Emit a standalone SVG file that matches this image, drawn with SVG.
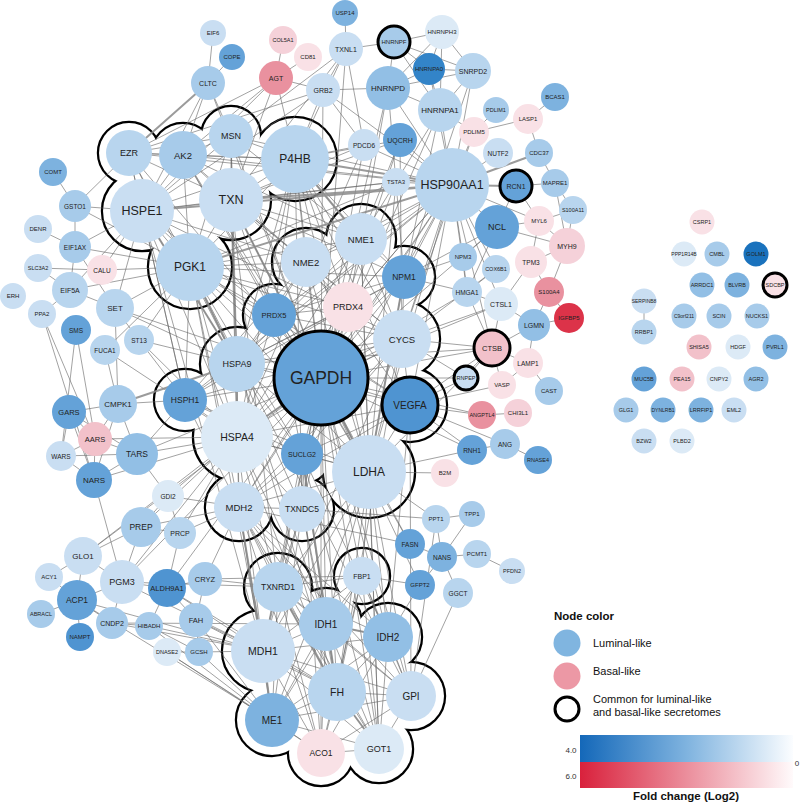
<svg xmlns="http://www.w3.org/2000/svg" xmlns:xlink="http://www.w3.org/1999/xlink" width="800" height="804" viewBox="0 0 800 804">
<style>
.e{stroke:#666;stroke-width:.85;fill:none;stroke-opacity:.72}
.e2{stroke:#8a8a8a;stroke-width:2;fill:none;stroke-opacity:.85}
.c1{fill:#dceaf6}.c2{fill:#c9def2}.c3{fill:#b8d5ee}.c4{fill:#a7cbea}.c5{fill:#92bfe5}.c6{fill:#7db2df}.c7{fill:#64a2d8}.c8{fill:#4f94d1}.c9{fill:#3384c8}.c10{fill:#1a72bd}
.p1{fill:#f9e1e6}.p2{fill:#f5d1d9}.p3{fill:#f2c1ca}.p4{fill:#e9919f}.p5{fill:#dc3349}
.bd{stroke:#000;stroke-width:3}
text{font-family:"Liberation Sans",Arial,Helvetica,sans-serif;fill:#222;text-anchor:middle;dominant-baseline:central}
.s5{font-size:5px}.s55{font-size:5.5px}.s6{font-size:6px}.s65{font-size:6.5px}.s7{font-size:7px}.s75{font-size:7.5px}.s8{font-size:8px}.s85{font-size:8.5px}.s9{font-size:9px}.s95{font-size:9.5px}.s10{font-size:10px}.s105{font-size:10.5px}.s12{font-size:12px}.s125{font-size:12.5px}.s17{font-size:17.5px}
.lg{font-size:11px;text-anchor:start;dominant-baseline:auto;fill:#111}
.lb{font-size:11.5px;font-weight:bold;dominant-baseline:auto;fill:#111}
.tk{font-size:8px;dominant-baseline:auto;fill:#333}
</style>
<defs>
<g id="k1"><circle cx="129" cy="153" r="30"/><circle cx="183" cy="155" r="31"/><circle cx="231" cy="136" r="29"/><circle cx="295" cy="159" r="41"/><circle cx="142" cy="211" r="39"/><circle cx="231" cy="200" r="39"/><circle cx="190" cy="267" r="41"/></g>
<g id="k2"><circle cx="361" cy="239" r="34"/><circle cx="306" cy="262" r="33"/><circle cx="404" cy="277" r="30"/><circle cx="348" cy="307" r="33"/><circle cx="274" cy="315" r="30"/><circle cx="402" cy="339" r="37"/><circle cx="321" cy="378" r="55"/><circle cx="237" cy="364" r="36"/><circle cx="410" cy="405" r="36"/><circle cx="237" cy="437" r="43"/><circle cx="185" cy="400" r="30"/><circle cx="302" cy="454" r="29"/><circle cx="369" cy="472" r="45"/><circle cx="239" cy="507" r="33"/><circle cx="302" cy="509" r="31"/></g>
<g id="k3"><circle cx="278" cy="587" r="33"/><circle cx="362" cy="576" r="27"/><circle cx="326" cy="624" r="35"/><circle cx="388" cy="637" r="33"/><circle cx="263" cy="651" r="40"/><circle cx="337" cy="692" r="37"/><circle cx="411" cy="696" r="33"/><circle cx="272" cy="720" r="35"/><circle cx="321" cy="753" r="32"/><circle cx="379" cy="749" r="33"/></g>
<mask id="m1" maskUnits="userSpaceOnUse" x="0" y="0" width="800" height="804"><rect width="800" height="804" fill="#fff"/><use href="#k1" fill="#000"/><polygon points="129,153 183,155 231,136 295,159 231,200 190,267 142,211" fill="#000"/></mask>
<mask id="m2" maskUnits="userSpaceOnUse" x="0" y="0" width="800" height="804"><rect width="800" height="804" fill="#fff"/><use href="#k2" fill="#000"/><polygon points="361,239 404,277 402,339 410,405 369,472 302,454 302,509 239,507 237,437 185,400 237,364 274,315 306,262" fill="#000"/></mask>
<mask id="m3" maskUnits="userSpaceOnUse" x="0" y="0" width="800" height="804"><rect width="800" height="804" fill="#fff"/><use href="#k3" fill="#000"/><polygon points="278,587 326,624 362,576 326,624 388,637 411,696 379,749 321,753 272,720 263,651" fill="#000"/></mask>
<linearGradient id="gb" x1="0" x2="1" y1="0" y2="0"><stop offset="0" stop-color="#1468b9"/><stop offset="0.5" stop-color="#7fb3df"/><stop offset="1" stop-color="#fbfdff"/></linearGradient>
<linearGradient id="gr" x1="0" x2="1" y1="0" y2="0"><stop offset="0" stop-color="#d9213c"/><stop offset="0.5" stop-color="#eb8e9c"/><stop offset="1" stop-color="#fffafb"/></linearGradient>
</defs>
<rect width="800" height="804" fill="#fff"/>
<g id="outlines">
<g mask="url(#m1)"><use href="#k1" fill="none" stroke="#000" stroke-width="4.4"/></g>
<g mask="url(#m2)"><use href="#k2" fill="none" stroke="#000" stroke-width="4.4"/></g>
<g mask="url(#m3)"><use href="#k3" fill="none" stroke="#000" stroke-width="4.4"/></g>
</g>
<g id="connectors">
<path class="e" d="M129 153L183 155M129 153L231 136M129 153L295 159M129 153L142 211M129 153L231 200M129 153L190 267M183 155L231 136M183 155L295 159M183 155L142 211M183 155L231 200M183 155L190 267M231 136L295 159M231 136L142 211M231 136L231 200M231 136L190 267M295 159L142 211M295 159L231 200M295 159L190 267M142 211L231 200M142 211L190 267M231 200L190 267"/>
<path class="e" d="M321 378L361 239M321 378L306 262M321 378L404 277M321 378L348 307M321 378L274 315M321 378L402 339M321 378L237 364M321 378L410 405M321 378L237 437M321 378L185 400M321 378L302 454M321 378L369 472M321 378L239 507M321 378L302 509M361 239L306 262M361 239L404 277M361 239L348 307M361 239L402 339M361 239L237 364M361 239L369 472M361 239L237 437M306 262L274 315M306 262L237 364M306 262L348 307M306 262L402 339M306 262L369 472M306 262L185 400M306 262L410 405M404 277L402 339M404 277L237 364M404 277L237 437M404 277L369 472M404 277L348 307M404 277L274 315M348 307L274 315M348 307L237 364M348 307L302 509M348 307L369 472M348 307L185 400M274 315L237 364M274 315L237 437M274 315L402 339M274 315L302 454M274 315L410 405M274 315L369 472M402 339L410 405M402 339L369 472M402 339L237 364M402 339L237 437M402 339L302 454M402 339L185 400M402 339L239 507M237 364L237 437M237 364L185 400M237 364L369 472M237 364L302 454M237 364L239 507M237 364L410 405M237 364L302 509M410 405L369 472M410 405L237 437M410 405L302 454M410 405L239 507M237 437L185 400M237 437L369 472M237 437L239 507M237 437L302 509M237 437L302 454M185 400L369 472M185 400L302 454M185 400L239 507M302 454L369 472M302 454L239 507M302 454L302 509M369 472L239 507M369 472L302 509M239 507L302 509"/>
<path class="e" d="M278 587L362 576M278 587L326 624M278 587L388 637M278 587L263 651M278 587L337 692M278 587L411 696M278 587L272 720M278 587L321 753M278 587L379 749M362 576L326 624M362 576L388 637M362 576L263 651M362 576L337 692M362 576L411 696M362 576L272 720M362 576L321 753M362 576L379 749M326 624L388 637M326 624L263 651M326 624L337 692M326 624L411 696M326 624L272 720M326 624L321 753M326 624L379 749M388 637L263 651M388 637L337 692M388 637L411 696M388 637L272 720M388 637L321 753M388 637L379 749M263 651L337 692M263 651L411 696M263 651L272 720M263 651L321 753M263 651L379 749M337 692L411 696M337 692L272 720M337 692L321 753M337 692L379 749M411 696L272 720M411 696L321 753M411 696L379 749M272 720L321 753M272 720L379 749M321 753L379 749"/>
<path class="e" d="M142 211L321 378M142 211L237 364M142 211L237 437M142 211L306 262M142 211L185 400M142 211L402 339M142 211L274 315M231 200L321 378M231 200L274 315M231 200L348 307M231 200L361 239M231 200L306 262M231 200L237 364M231 200L369 472M231 200L404 277M231 200L402 339M231 200L237 437M190 267L321 378M190 267L369 472M190 267L237 364M190 267L237 437M190 267L306 262M190 267L274 315M190 267L361 239M190 267L402 339M190 267L410 405M190 267L185 400M190 267L404 277M190 267L348 307M190 267L302 454M190 267L239 507M295 159L321 378M295 159L237 364M295 159L361 239M295 159L348 307M295 159L237 437M295 159L402 339M295 159L404 277M295 159L302 509M295 159L410 405M295 159L306 262M295 159L274 315M295 159L369 472M231 136L321 378M231 136L237 437M231 136L361 239M231 136L237 364M129 153L321 378M129 153L237 364M129 153L185 400M183 155L321 378M183 155L306 262M183 155L274 315M183 155L369 472M183 155L361 239"/>
<path class="e" d="M452 185L321 378M452 185L237 364M452 185L237 437M452 185L185 400M452 185L404 277M452 185L361 239M452 185L306 262M452 185L402 339M452 185L369 472M452 185L410 405M452 185L348 307M452 185L183 155M452 185L231 136M452 185L129 153M452 185L364 145M452 185L400 140M452 185L396 182M452 185L388 88M452 185L440 110M452 185L497 227M452 185L498 153M452 185L474 132M452 185L539 221M452 185L492 348M452 185L467 292M452 185L463 257M452 185L496 269M452 185L501 304M452 185L239 507M452 185L302 454M452 185L274 315M452 185L429 69M452 185L473 71M452 185L323 90"/>
<path class="e" d="M400 140L321 378M400 140L402 339M400 140L231 200M400 140L361 239M400 140L295 159M364 145L237 437M364 145L321 378M364 145L295 159M364 145L231 200M364 145L323 90M364 145L346 49M396 182L321 378M396 182L231 200M396 182L190 267M396 182L142 211M396 182L369 472M323 90L295 159M323 90L142 211M323 90L321 378M323 90L276 78M323 90L346 49M323 90L388 88M323 90L129 153M276 78L129 153M276 78L183 155M276 78L142 211M276 78L295 159M276 78L283 40M276 78L308 57M276 78L231 200M208 83L213 33M208 83L232 57M208 83L183 155M208 83L231 136M208 83L321 378M208 83L142 211M346 49L345 13M346 49L394 42M346 49L295 159M346 49L231 200M346 49L321 378M346 49L231 136"/>
<path class="e" d="M394 42L429 69M394 42L388 88M394 42L440 110M394 42L442 32M394 42L473 71M429 69L442 32M429 69L473 71M429 69L440 110M429 69L388 88M388 88L440 110M388 88L361 239M388 88L321 378M388 88L404 277M388 88L442 32M388 88L473 71M442 32L473 71M442 32L440 110M473 71L440 110M473 71L404 277M440 110L321 378M440 110L361 239M440 110L404 277M440 110L474 132"/>
<path class="e" d="M496 110L474 132M528 119L474 132M528 119L555 97M528 119L539 153M474 132L402 339M539 153L555 183M516 186L555 183M516 186L497 227M516 186L539 221M555 183L573 210M555 183L567 246M573 210L539 221M573 210L567 246M539 221L497 227M539 221L567 246M539 221L531 262M567 246L531 262M567 246L549 292M567 246L497 227M531 262L549 292M531 262L501 304M497 227L404 277M497 227L463 257M497 227L321 378M497 227L467 292M463 257L404 277M463 257L467 292M496 269L402 339M496 269L467 292M467 292L321 378M467 292L404 277M467 292L492 348M549 292L569 318M549 292L534 325M569 318L534 325M534 325L492 348M534 325L501 304M534 325L528 363M492 348L501 304M492 348L528 363M492 348L321 378M492 348L466 378M492 348L410 405M492 348L402 339M492 348L369 472M492 348L237 364M492 348L502 385M501 304L321 378M501 304L402 339M501 304L467 292M528 363L549 391M528 363L502 385M466 378L321 378M466 378L410 405M466 378L402 339M518 413L482 415M482 415L410 405M482 415L321 378M505 444L472 450M505 444L538 460M505 444L410 405M472 450L410 405M472 450L369 472M472 450L321 378M445 473L369 472M502 385L410 405"/>
<path class="e" d="M436 519L472 514M436 519L442 557M436 519L369 472M436 519L302 509M436 519L411 696M410 544L442 557M410 544L369 472M410 544L321 378M410 544L239 507M442 557L477 554M442 557L472 514M442 557L458 593M442 557L420 585M477 554L512 571M420 585L362 576M420 585L321 378M420 585L388 637M458 593L411 696M205 579L362 576M644 301L644 332"/>
<path class="e" d="M53 172L75 206M75 206L142 211M75 206L129 153M75 206L190 267M75 206L75 247M38 229L75 247M75 247L142 211M75 247L190 267M75 247L70 290M75 247L115 308M38 268L70 290M38 268L102 270M102 270L190 267M102 270L142 211M70 290L115 308M70 290L142 211M70 290L190 267M70 290L42 314M42 314L94 480M42 314L95 439M115 308L190 267M115 308L142 211M115 308L237 364M115 308L321 378M115 308L139 340M115 308L118 404M76 330L95 439M76 330L61 456M139 340L237 364M139 340L185 400M139 340L190 267M139 340L237 437M105 350L118 404M105 350L237 437M105 350L190 267M118 404L69 412M118 404L95 439M118 404L137 454M118 404L94 480M118 404L185 400M69 412L95 439M69 412L61 456M69 412L94 480M69 412L137 454M95 439L137 454M95 439L61 456M95 439L94 480M95 439L237 437M61 456L94 480M61 456L137 454M137 454L94 480M137 454L237 437M137 454L321 378M137 454L185 400M137 454L168 496M94 480L237 437M94 480L122 582"/>
<path class="e" d="M168 496L237 437M168 496L141 527M168 496L180 533M168 496L239 507M141 527L180 533M141 527L122 582M141 527L83 556M141 527L237 437M141 527L239 507M180 533L167 588M180 533L239 507M180 533L237 437M83 556L49 577M83 556L77 600M83 556L122 582M83 556L237 437M83 556L321 378M49 577L77 600M77 600L41 614M77 600L80 637M77 600L112 623M77 600L122 582M77 600L263 651M77 600L272 720M122 582L167 588M122 582L112 623M122 582L278 587M122 582L263 651M122 582L321 378M122 582L237 437M167 588L205 579M167 588L149 626M167 588L196 620M167 588L263 651M167 588L321 378M167 588L337 692M205 579L196 620M205 579L278 587M205 579L239 507M196 620L199 652M196 620L263 651M196 620L337 692M196 620L272 720M149 626L199 652M149 626L263 651M149 626L272 720M149 626L112 623M167 652L199 652M167 652L272 720M167 652L321 753M112 623L326 624M112 623L263 651M199 652L272 720M199 652L263 651"/>
<path class="e" d="M321 378L263 651M321 378L326 624M321 378L337 692M321 378L411 696M321 378L272 720M321 378L278 587M321 378L379 749M321 378L321 753M321 378L388 637M321 378L362 576M369 472L263 651M369 472L326 624M369 472L411 696M369 472L337 692M369 472L379 749M369 472L388 637M369 472L278 587M369 472L272 720M369 472L362 576M239 507L263 651M239 507L326 624M239 507L337 692M239 507L272 720M239 507L379 749M239 507L278 587M239 507L388 637M239 507L321 753M239 507L411 696M302 509L278 587M302 509L326 624M302 509L337 692M302 509L263 651M302 454L337 692M302 454L388 637M302 454L263 651M302 454L321 753M302 454L326 624M302 454L379 749M237 437L263 651M237 437L278 587M237 437L337 692M237 437L326 624M231 200L278 587M190 267L411 696M190 267L263 651M142 211L263 651M402 339L337 692M402 339L263 651M410 405L388 637M410 405L411 696M361 239L379 749M237 364L326 624M237 364L337 692"/>
<path class="e2" d="M118 404L237 364M452 185L516 186M452 185L539 153M129 153L208 83M452 185L142 211M452 185L231 200M452 185L295 159M452 185L190 267M321 378L237 437M321 378L369 472M142 211L237 364M231 200L321 378M326 624L388 637M263 651L272 720M337 692L379 749M239 507L263 651M302 454L337 692M190 267L237 364M295 159L361 239M404 277L369 472M278 587L337 692"/>
</g>
<g id="nodes">
<g id="n-EIF6"><circle class="c2" cx="213" cy="33" r="13"/><text class="s6" x="213" y="33">EIF6</text></g>
<g id="n-COPE"><circle class="c7" cx="232" cy="57" r="13"/><text class="s6" x="232" y="57">COPE</text></g>
<g id="n-CLTC"><circle class="c4" cx="208" cy="83" r="17"/><text class="s7" x="208" y="83">CLTC</text></g>
<g id="n-USP14"><circle class="c6" cx="345" cy="13" r="13"/><text class="s6" x="345" y="13">USP14</text></g>
<g id="n-TXNL1"><circle class="c2" cx="346" cy="49" r="17"/><text class="s7" x="346" y="49">TXNL1</text></g>
<g id="n-COL5A1"><circle class="p2" cx="283" cy="40" r="14"/><text class="s55" x="283" y="40">COL5A1</text></g>
<g id="n-CD81"><circle class="p1" cx="308" cy="57" r="14"/><text class="s6" x="308" y="57">CD81</text></g>
<g id="n-AGT"><circle class="p4" cx="276" cy="78" r="17"/><text class="s7" x="276" y="78">AGT</text></g>
<g id="n-GRB2"><circle class="c2" cx="323" cy="90" r="17"/><text class="s7" x="323" y="90">GRB2</text></g>
<g id="n-HNRNPF"><circle class="c4 bd" cx="394" cy="42" r="16"/><text class="s6" x="394" y="42">HNRNPF</text></g>
<g id="n-HNRNPH3"><circle class="c1" cx="442" cy="32" r="17"/><text class="s6" x="442" y="32">HNRNPH3</text></g>
<g id="n-HNRNPA0"><circle class="c9" cx="429" cy="69" r="16"/><text class="s6" x="429" y="69">HNRNPA0</text></g>
<g id="n-HNRNPD"><circle class="c5" cx="388" cy="88" r="22"/><text class="s8" x="388" y="88">HNRNPD</text></g>
<g id="n-HNRNPA1"><circle class="c3" cx="440" cy="110" r="22"/><text class="s8" x="440" y="110">HNRNPA1</text></g>
<g id="n-SNRPD2"><circle class="c3" cx="473" cy="71" r="18"/><text class="s7" x="473" y="71">SNRPD2</text></g>
<g id="n-PDCD6"><circle class="c2" cx="364" cy="145" r="16"/><text class="s65" x="364" y="145">PDCD6</text></g>
<g id="n-UQCRH"><circle class="c7" cx="400" cy="140" r="17"/><text class="s7" x="400" y="140">UQCRH</text></g>
<g id="n-TSTA3"><circle class="c2" cx="396" cy="182" r="14"/><text class="s6" x="396" y="182">TSTA3</text></g>
<g id="n-HSP90AA1"><circle class="c3" cx="452" cy="185" r="37"/><text class="s125" x="452" y="185">HSP90AA1</text></g>
<g id="n-EZR"><circle class="c3" cx="129" cy="153" r="23"/><text class="s9" x="129" y="153">EZR</text></g>
<g id="n-AK2"><circle class="c4" cx="183" cy="155" r="24"/><text class="s95" x="183" y="155">AK2</text></g>
<g id="n-MSN"><circle class="c3" cx="231" cy="136" r="22"/><text class="s9" x="231" y="136">MSN</text></g>
<g id="n-P4HB"><circle class="c3" cx="295" cy="159" r="34"/><text class="s12" x="295" y="159">P4HB</text></g>
<g id="n-HSPE1"><circle class="c2" cx="142" cy="211" r="32"/><text class="s125" x="142" y="211">HSPE1</text></g>
<g id="n-TXN"><circle class="c2" cx="231" cy="200" r="32"/><text class="s125" x="231" y="200">TXN</text></g>
<g id="n-PGK1"><circle class="c3" cx="190" cy="267" r="34"/><text class="s12" x="190" y="267">PGK1</text></g>
<g id="n-PDLIM1"><circle class="c4" cx="496" cy="110" r="13"/><text class="s55" x="496" y="110">PDLIM1</text></g>
<g id="n-LASP1"><circle class="p1" cx="528" cy="119" r="15"/><text class="s6" x="528" y="119">LASP1</text></g>
<g id="n-BCAS1"><circle class="c6" cx="555" cy="97" r="14"/><text class="s6" x="555" y="97">BCAS1</text></g>
<g id="n-PDLIM5"><circle class="p1" cx="474" cy="132" r="15"/><text class="s6" x="474" y="132">PDLIM5</text></g>
<g id="n-NUTF2"><circle class="c2" cx="498" cy="153" r="15"/><text class="s65" x="498" y="153">NUTF2</text></g>
<g id="n-CDC37"><circle class="c4" cx="539" cy="153" r="14"/><text class="s6" x="539" y="153">CDC37</text></g>
<g id="n-RCN1"><circle class="c7 bd" cx="516" cy="186" r="16"/><text class="s7" x="516" y="186">RCN1</text></g>
<g id="n-MAPRE1"><circle class="c4" cx="555" cy="183" r="14"/><text class="s6" x="555" y="183">MAPRE1</text></g>
<g id="n-S100A11"><circle class="c3" cx="573" cy="210" r="14"/><text class="s55" x="573" y="210">S100A11</text></g>
<g id="n-NCL"><circle class="c7" cx="497" cy="227" r="22"/><text class="s9" x="497" y="227">NCL</text></g>
<g id="n-MYL6"><circle class="p1" cx="539" cy="221" r="15"/><text class="s6" x="539" y="221">MYL6</text></g>
<g id="n-MYH9"><circle class="p2" cx="567" cy="246" r="18"/><text class="s7" x="567" y="246">MYH9</text></g>
<g id="n-NPM3"><circle class="c4" cx="463" cy="257" r="14"/><text class="s6" x="463" y="257">NPM3</text></g>
<g id="n-COX6B1"><circle class="c3" cx="496" cy="269" r="14"/><text class="s55" x="496" y="269">COX6B1</text></g>
<g id="n-TPM3"><circle class="p1" cx="531" cy="262" r="16"/><text class="s65" x="531" y="262">TPM3</text></g>
<g id="n-HMGA1"><circle class="c3" cx="467" cy="292" r="15"/><text class="s65" x="467" y="292">HMGA1</text></g>
<g id="n-CTSL1"><circle class="c1" cx="501" cy="304" r="17"/><text class="s7" x="501" y="304">CTSL1</text></g>
<g id="n-S100A4"><circle class="p4" cx="549" cy="292" r="15"/><text class="s6" x="549" y="292">S100A4</text></g>
<g id="n-IGFBP5"><circle class="p5" cx="569" cy="318" r="15"/><text class="s6" x="569" y="318">IGFBP5</text></g>
<g id="n-LGMN"><circle class="c5" cx="534" cy="325" r="16"/><text class="s7" x="534" y="325">LGMN</text></g>
<g id="n-CTSB"><circle class="p3 bd" cx="492" cy="348" r="18"/><text class="s75" x="492" y="348">CTSB</text></g>
<g id="n-LAMP1"><circle class="p1" cx="528" cy="363" r="15"/><text class="s65" x="528" y="363">LAMP1</text></g>
<g id="n-CAST"><circle class="c4" cx="549" cy="391" r="14"/><text class="s6" x="549" y="391">CAST</text></g>
<g id="n-RNPEP"><circle class="c2 bd" cx="466" cy="378" r="12"/><text class="s55" x="466" y="378">RNPEP</text></g>
<g id="n-VASP"><circle class="p1" cx="502" cy="385" r="14"/><text class="s6" x="502" y="385">VASP</text></g>
<g id="n-CHI3L1"><circle class="p2" cx="518" cy="413" r="14"/><text class="s6" x="518" y="413">CHI3L1</text></g>
<g id="n-ANGPTL4"><circle class="p4" cx="482" cy="415" r="14"/><text class="s55" x="482" y="415">ANGPTL4</text></g>
<g id="n-RNH1"><circle class="c7" cx="472" cy="450" r="15"/><text class="s65" x="472" y="450">RNH1</text></g>
<g id="n-ANG"><circle class="c4" cx="505" cy="444" r="15"/><text class="s65" x="505" y="444">ANG</text></g>
<g id="n-RNASE4"><circle class="c7" cx="538" cy="460" r="14"/><text class="s55" x="538" y="460">RNASE4</text></g>
<g id="n-B2M"><circle class="p1" cx="445" cy="473" r="14"/><text class="s6" x="445" y="473">B2M</text></g>
<g id="n-NME1"><circle class="c2" cx="361" cy="239" r="26"/><text class="s95" x="361" y="239">NME1</text></g>
<g id="n-NME2"><circle class="c2" cx="306" cy="262" r="25"/><text class="s95" x="306" y="262">NME2</text></g>
<g id="n-NPM1"><circle class="c7" cx="404" cy="277" r="22"/><text class="s85" x="404" y="277">NPM1</text></g>
<g id="n-PRDX4"><circle class="p1" cx="348" cy="307" r="25"/><text class="s9" x="348" y="307">PRDX4</text></g>
<g id="n-PRDX5"><circle class="c7" cx="274" cy="315" r="22"/><text class="s75" x="274" y="315">PRDX5</text></g>
<g id="n-CYCS"><circle class="c2" cx="402" cy="339" r="29"/><text class="s95" x="402" y="339">CYCS</text></g>
<g id="n-GAPDH"><circle class="c7 bd" cx="321" cy="378" r="47"/><text class="s17" x="321" y="378">GAPDH</text></g>
<g id="n-HSPA9"><circle class="c3" cx="237" cy="364" r="28"/><text class="s9" x="237" y="364">HSPA9</text></g>
<g id="n-VEGFA"><circle class="c8 bd" cx="410" cy="405" r="28"/><text class="s10" x="410" y="405">VEGFA</text></g>
<g id="n-HSPA4"><circle class="c1" cx="237" cy="437" r="36"/><text class="s105" x="237" y="437">HSPA4</text></g>
<g id="n-HSPH1"><circle class="c7" cx="185" cy="400" r="22"/><text class="s85" x="185" y="400">HSPH1</text></g>
<g id="n-SUCLG2"><circle class="c7" cx="302" cy="454" r="21"/><text class="s7" x="302" y="454">SUCLG2</text></g>
<g id="n-LDHA"><circle class="c2" cx="369" cy="472" r="37"/><text class="s12" x="369" y="472">LDHA</text></g>
<g id="n-MDH2"><circle class="c2" cx="239" cy="507" r="25"/><text class="s95" x="239" y="507">MDH2</text></g>
<g id="n-TXNDC5"><circle class="c2" cx="302" cy="509" r="23"/><text class="s85" x="302" y="509">TXNDC5</text></g>
<g id="n-TXNRD1"><circle class="c3" cx="278" cy="587" r="25"/><text class="s85" x="278" y="587">TXNRD1</text></g>
<g id="n-FBP1"><circle class="c2" cx="362" cy="576" r="19"/><text class="s7" x="362" y="576">FBP1</text></g>
<g id="n-IDH1"><circle class="c4" cx="326" cy="624" r="27"/><text class="s10" x="326" y="624">IDH1</text></g>
<g id="n-IDH2"><circle class="c5" cx="388" cy="637" r="25"/><text class="s10" x="388" y="637">IDH2</text></g>
<g id="n-MDH1"><circle class="c2" cx="263" cy="651" r="32"/><text class="s105" x="263" y="651">MDH1</text></g>
<g id="n-FH"><circle class="c3" cx="337" cy="692" r="29"/><text class="s105" x="337" y="692">FH</text></g>
<g id="n-GPI"><circle class="c2" cx="411" cy="696" r="25"/><text class="s10" x="411" y="696">GPI</text></g>
<g id="n-ME1"><circle class="c6" cx="272" cy="720" r="27"/><text class="s10" x="272" y="720">ME1</text></g>
<g id="n-ACO1"><circle class="p1" cx="321" cy="753" r="24"/><text class="s85" x="321" y="753">ACO1</text></g>
<g id="n-GOT1"><circle class="c1" cx="379" cy="749" r="25"/><text class="s9" x="379" y="749">GOT1</text></g>
<g id="n-COMT"><circle class="c6" cx="53" cy="172" r="14"/><text class="s6" x="53" y="172">COMT</text></g>
<g id="n-GSTO1"><circle class="c4" cx="75" cy="206" r="16"/><text class="s65" x="75" y="206">GSTO1</text></g>
<g id="n-DENR"><circle class="c2" cx="38" cy="229" r="14"/><text class="s6" x="38" y="229">DENR</text></g>
<g id="n-EIF1AX"><circle class="c4" cx="75" cy="247" r="16"/><text class="s65" x="75" y="247">EIF1AX</text></g>
<g id="n-SLC3A2"><circle class="c2" cx="38" cy="268" r="14"/><text class="s55" x="38" y="268">SLC3A2</text></g>
<g id="n-CALU"><circle class="p1" cx="102" cy="270" r="15"/><text class="s65" x="102" y="270">CALU</text></g>
<g id="n-EIF5A"><circle class="c3" cx="70" cy="290" r="18"/><text class="s7" x="70" y="290">EIF5A</text></g>
<g id="n-ERH"><circle class="c2" cx="13" cy="296" r="13"/><text class="s6" x="13" y="296">ERH</text></g>
<g id="n-PPA2"><circle class="c2" cx="42" cy="314" r="14"/><text class="s6" x="42" y="314">PPA2</text></g>
<g id="n-SET"><circle class="c3" cx="115" cy="308" r="19"/><text class="s8" x="115" y="308">SET</text></g>
<g id="n-SMS"><circle class="c7" cx="76" cy="330" r="15"/><text class="s65" x="76" y="330">SMS</text></g>
<g id="n-ST13"><circle class="c3" cx="139" cy="340" r="15"/><text class="s65" x="139" y="340">ST13</text></g>
<g id="n-FUCA1"><circle class="c3" cx="105" cy="350" r="15"/><text class="s65" x="105" y="350">FUCA1</text></g>
<g id="n-CMPK1"><circle class="c4" cx="118" cy="404" r="19"/><text class="s8" x="118" y="404">CMPK1</text></g>
<g id="n-GARS"><circle class="c7" cx="69" cy="412" r="17"/><text class="s75" x="69" y="412">GARS</text></g>
<g id="n-AARS"><circle class="p3" cx="95" cy="439" r="17"/><text class="s75" x="95" y="439">AARS</text></g>
<g id="n-WARS"><circle class="c2" cx="61" cy="456" r="15"/><text class="s65" x="61" y="456">WARS</text></g>
<g id="n-TARS"><circle class="c5" cx="137" cy="454" r="21"/><text class="s85" x="137" y="454">TARS</text></g>
<g id="n-NARS"><circle class="c7" cx="94" cy="480" r="18"/><text class="s8" x="94" y="480">NARS</text></g>
<g id="n-GDI2"><circle class="c1" cx="168" cy="496" r="16"/><text class="s65" x="168" y="496">GDI2</text></g>
<g id="n-PREP"><circle class="c4" cx="141" cy="527" r="20"/><text class="s85" x="141" y="527">PREP</text></g>
<g id="n-PRCP"><circle class="c3" cx="180" cy="533" r="16"/><text class="s7" x="180" y="533">PRCP</text></g>
<g id="n-GLO1"><circle class="c2" cx="83" cy="556" r="19"/><text class="s8" x="83" y="556">GLO1</text></g>
<g id="n-ACY1"><circle class="c2" cx="49" cy="577" r="14"/><text class="s6" x="49" y="577">ACY1</text></g>
<g id="n-PGM3"><circle class="c2" cx="122" cy="582" r="22"/><text class="s9" x="122" y="582">PGM3</text></g>
<g id="n-ALDH9A1"><circle class="c8" cx="167" cy="588" r="19"/><text class="s75" x="167" y="588">ALDH9A1</text></g>
<g id="n-CRYZ"><circle class="c4" cx="205" cy="579" r="17"/><text class="s75" x="205" y="579">CRYZ</text></g>
<g id="n-ACP1"><circle class="c7" cx="77" cy="600" r="20"/><text class="s85" x="77" y="600">ACP1</text></g>
<g id="n-ABRACL"><circle class="c4" cx="41" cy="614" r="14"/><text class="s55" x="41" y="614">ABRACL</text></g>
<g id="n-CNDP2"><circle class="c4" cx="112" cy="623" r="16"/><text class="s7" x="112" y="623">CNDP2</text></g>
<g id="n-HIBADH"><circle class="c4" cx="149" cy="626" r="14"/><text class="s6" x="149" y="626">HIBADH</text></g>
<g id="n-FAH"><circle class="c4" cx="196" cy="620" r="17"/><text class="s75" x="196" y="620">FAH</text></g>
<g id="n-NAMPT"><circle class="c8" cx="80" cy="637" r="14"/><text class="s6" x="80" y="637">NAMPT</text></g>
<g id="n-DNASE2"><circle class="c1" cx="167" cy="652" r="14"/><text class="s55" x="167" y="652">DNASE2</text></g>
<g id="n-GCSH"><circle class="c4" cx="199" cy="652" r="14"/><text class="s6" x="199" y="652">GCSH</text></g>
<g id="n-PPT1"><circle class="c3" cx="436" cy="519" r="14"/><text class="s6" x="436" y="519">PPT1</text></g>
<g id="n-TPP1"><circle class="c4" cx="472" cy="514" r="13"/><text class="s6" x="472" y="514">TPP1</text></g>
<g id="n-FASN"><circle class="c7" cx="410" cy="544" r="15"/><text class="s65" x="410" y="544">FASN</text></g>
<g id="n-NANS"><circle class="c6" cx="442" cy="557" r="15"/><text class="s65" x="442" y="557">NANS</text></g>
<g id="n-PCMT1"><circle class="c3" cx="477" cy="554" r="14"/><text class="s6" x="477" y="554">PCMT1</text></g>
<g id="n-PFDN2"><circle class="c2" cx="512" cy="571" r="13"/><text class="s55" x="512" y="571">PFDN2</text></g>
<g id="n-GFPT2"><circle class="c7" cx="420" cy="585" r="15"/><text class="s6" x="420" y="585">GFPT2</text></g>
<g id="n-GGCT"><circle class="c3" cx="458" cy="593" r="15"/><text class="s65" x="458" y="593">GGCT</text></g>
<g id="n-CSRP1"><circle class="p1" cx="702" cy="222" r="12.5"/><text class="s55" x="702" y="222">CSRP1</text></g>
<g id="n-PPP1R14B"><circle class="c1" cx="684" cy="254" r="12.5"/><text class="s5" x="684" y="254">PPP1R14B</text></g>
<g id="n-CMBL"><circle class="c4" cx="717" cy="254" r="12.5"/><text class="s55" x="717" y="254">CMBL</text></g>
<g id="n-GOLM1"><circle class="c10" cx="756" cy="254" r="12.5"/><text class="s55" x="756" y="254">GOLM1</text></g>
<g id="n-ARRDC1"><circle class="c5" cx="702" cy="285" r="12.5"/><text class="s55" x="702" y="285">ARRDC1</text></g>
<g id="n-BLVRB"><circle class="c6" cx="737" cy="285" r="12.5"/><text class="s55" x="737" y="285">BLVRB</text></g>
<g id="n-SDCBP"><circle class="p1 bd" cx="775" cy="285" r="12"/><text class="s55" x="775" y="285">SDCBP</text></g>
<g id="n-SERPINB8"><circle class="c2" cx="644" cy="301" r="12.5"/><text class="s5" x="644" y="301">SERPINB8</text></g>
<g id="n-RRBP1"><circle class="c3" cx="644" cy="332" r="12.5"/><text class="s55" x="644" y="332">RRBP1</text></g>
<g id="n-C9orf211"><circle class="c4" cx="684" cy="316" r="12.5"/><text class="s5" x="684" y="316">C9orf211</text></g>
<g id="n-SCIN"><circle class="c4" cx="719" cy="316" r="12.5"/><text class="s55" x="719" y="316">SCIN</text></g>
<g id="n-NUCKS1"><circle class="c4" cx="757" cy="316" r="12.5"/><text class="s55" x="757" y="316">NUCKS1</text></g>
<g id="n-SHISA5"><circle class="p3" cx="699" cy="347" r="12.5"/><text class="s55" x="699" y="347">SHISA5</text></g>
<g id="n-HDGF"><circle class="c1" cx="738" cy="347" r="12.5"/><text class="s55" x="738" y="347">HDGF</text></g>
<g id="n-PVRL1"><circle class="c6" cx="775" cy="347" r="12.5"/><text class="s55" x="775" y="347">PVRL1</text></g>
<g id="n-MUC5B"><circle class="c7" cx="644" cy="379" r="12.5"/><text class="s55" x="644" y="379">MUC5B</text></g>
<g id="n-PEA15"><circle class="p3" cx="682" cy="379" r="12.5"/><text class="s55" x="682" y="379">PEA15</text></g>
<g id="n-CNPY2"><circle class="c1" cx="719" cy="379" r="12.5"/><text class="s55" x="719" y="379">CNPY2</text></g>
<g id="n-AGR2"><circle class="c5" cx="756" cy="379" r="12.5"/><text class="s55" x="756" y="379">AGR2</text></g>
<g id="n-GLG1"><circle class="c4" cx="626" cy="410" r="12.5"/><text class="s55" x="626" y="410">GLG1</text></g>
<g id="n-DYNLRB1"><circle class="c6" cx="663" cy="410" r="12.5"/><text class="s5" x="663" y="410">DYNLRB1</text></g>
<g id="n-LRRFIP1"><circle class="c6" cx="701" cy="410" r="12.5"/><text class="s55" x="701" y="410">LRRFIP1</text></g>
<g id="n-EML2"><circle class="c2" cx="734" cy="410" r="12.5"/><text class="s55" x="734" y="410">EML2</text></g>
<g id="n-BZW2"><circle class="c2" cx="644" cy="441" r="12.5"/><text class="s55" x="644" y="441">BZW2</text></g>
<g id="n-PLBD2"><circle class="c1" cx="682" cy="441" r="12.5"/><text class="s55" x="682" y="441">PLBD2</text></g>
</g>
<g id="legend">
<text class="lb" x="554" y="620" style="text-anchor:start">Node color</text>
<circle cx="567" cy="643" r="13.5" fill="#80b5e0"/>
<text class="lg" x="593" y="647">Luminal-like</text>
<circle cx="567" cy="676" r="13.5" fill="#ec98a5"/>
<text class="lg" x="593" y="675">Basal-like</text>
<circle cx="567" cy="709" r="12" fill="#fff" stroke="#000" stroke-width="3"/>
<text class="lg" x="593" y="703">Common for luminal-like</text>
<text class="lg" x="593" y="716">and basal-like secretomes</text>
<rect x="580" y="735" width="213" height="27" fill="url(#gb)"/>
<rect x="580" y="762" width="213" height="26" fill="url(#gr)"/>
<text class="tk" x="571" y="753">4.0</text>
<text class="tk" x="571" y="779">6.0</text>
<text class="tk" x="797" y="766">0</text>
<text class="lb" x="686" y="800">Fold change (Log2)</text>
</g>
</svg>
